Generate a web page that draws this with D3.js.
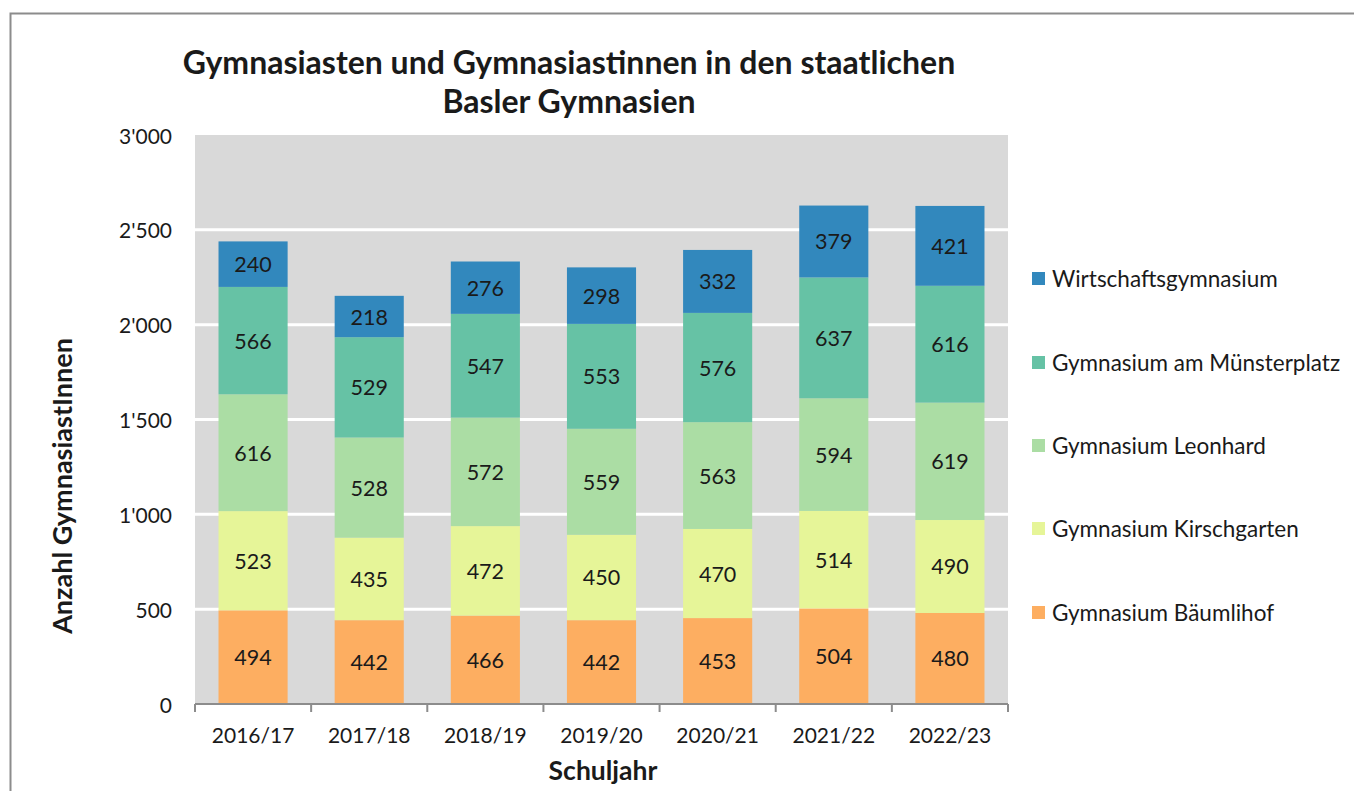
<!DOCTYPE html>
<html>
<head>
<meta charset="UTF-8">
<title>Gymnasiasten Basel</title>
<script src="https://d3js.org/d3.v7.min.js"></script>
<style>
  body { margin: 0; background: #fff; font-family: Lato, "Open Sans", sans-serif; }
  svg text { fill: #1a1a1a; }
</style>
</head>
<body>
<svg id="chart" width="1354" height="791"></svg>
<script>
// data
var years = ["2016/17", "2017/18", "2018/19", "2019/20", "2020/21", "2021/22", "2022/23"];
var baeumlihof   = [494, 442, 466, 442, 453, 504, 480];
var kirschgarten = [523, 435, 472, 450, 470, 514, 490];
var leonhard     = [616, 528, 572, 559, 563, 594, 619];
var muensterplatz = [566, 529, 547, 553, 576, 637, 616];
var wirtschaft   = [240, 218, 276, 298, 332, 379, 421];
var seriesNames = ["Gymnasium Bäumlihof", "Gymnasium Kirschgarten", "Gymnasium Leonhard",
                   "Gymnasium am Münsterplatz", "Wirtschaftsgymnasium"];
var yTicks = [0, 500, 1000, 1500, 2000, 2500, 3000];

var colors = ["#fdae61", "#e6f598", "#abdda4", "#66c2a5", "#3288bd"];
var allSeries = [baeumlihof, kirschgarten, leonhard, muensterplatz, wirtschaft];

var rows = years.map(function (y, i) {
  var r = { year: y };
  seriesNames.forEach(function (s, k) { r[s] = allSeries[k][i]; });
  return r;
});

var svg = d3.select("#chart");

// outer frame
svg.append("rect")
  .attr("x", 10.5).attr("y", 13.5)
  .attr("width", 1400).attr("height", 800)
  .attr("fill", "none").attr("stroke", "#8c8c8c").attr("stroke-width", 2);

var plot = { left: 195, top: 135, right: 1008, bottom: 704 };

var x = d3.scaleBand().domain(years).range([plot.left, plot.right]).paddingInner(0.405).paddingOuter(0.2025);
var xb = d3.scaleBand().domain(years).range([plot.left, plot.right]);
var y = d3.scaleLinear().domain([0, 3000]).range([plot.bottom, plot.top]);

// background
svg.append("rect")
  .attr("x", plot.left).attr("y", plot.top)
  .attr("width", plot.right - plot.left).attr("height", plot.bottom - plot.top)
  .attr("fill", "#d9d9d9");

// gridlines
svg.append("g").selectAll("line")
  .data(yTicks.filter(function (t) { return t > 0 && t < 3000; }))
  .join("line")
  .attr("x1", plot.left).attr("x2", plot.right)
  .attr("y1", function (d) { return y(d); }).attr("y2", function (d) { return y(d); })
  .attr("stroke", "#fff").attr("stroke-width", 3);

// stacks
var stack = d3.stack().keys(seriesNames)(rows);

var layers = svg.append("g").selectAll("g")
  .data(stack).join("g")
  .attr("fill", function (d, i) { return colors[i]; });

layers.selectAll("rect")
  .data(function (d) { return d; })
  .join("rect")
  .attr("x", function (d) { return x(d.data.year); })
  .attr("width", x.bandwidth())
  .attr("y", function (d) { return y(d[1]); })
  .attr("height", function (d) { return y(d[0]) - y(d[1]); });

layers.selectAll("text")
  .data(function (d) { return d; })
  .join("text")
  .attr("x", function (d) { return x(d.data.year) + x.bandwidth() / 2; })
  .attr("y", function (d) { return (y(d[0]) + y(d[1])) / 2; })
  .attr("text-anchor", "middle")
  .attr("dominant-baseline", "central")
  .style("font-size", "21.5px")
  .text(function (d) { return d[1] - d[0]; });

// x axis
var xAxis = svg.append("g")
  .attr("transform", "translate(0," + plot.bottom + ")");
xAxis.append("line")
  .attr("x1", plot.left).attr("x2", plot.right)
  .attr("stroke", "#8c8c8c").attr("stroke-width", 2);
xAxis.selectAll(".tk")
  .data(years.concat(["end"]))
  .join("line")
  .attr("class", "tk")
  .attr("x1", function (d, i) { return plot.left + i * xb.step(); })
  .attr("x2", function (d, i) { return plot.left + i * xb.step(); })
  .attr("y1", 0).attr("y2", 8)
  .attr("stroke", "#8c8c8c").attr("stroke-width", 2);
xAxis.selectAll("text")
  .data(years).join("text")
  .attr("x", function (d) { return xb(d) + xb.bandwidth() / 2; })
  .attr("y", 39)
  .attr("text-anchor", "middle")
  .style("font-size", "21px")
  .text(function (d) { return d; });

// y axis labels
svg.append("g").selectAll("text")
  .data(yTicks).join("text")
  .attr("x", 172)
  .attr("y", function (d) { return y(d); })
  .attr("text-anchor", "end")
  .attr("dominant-baseline", "central")
  .style("font-size", "21px")
  .text(function (d) { return d3.format(",")(d).replace(",", "'"); });

// titles
var title = svg.append("text")
  .attr("x", 569).attr("text-anchor", "middle")
  .style("font-size", "32px").style("font-weight", "bold");
title.append("tspan").attr("x", 569).attr("y", 74).text("Gymnasiasten und Gymnasiastinnen in den staatlichen");
title.append("tspan").attr("x", 569).attr("y", 113).text("Basler Gymnasien");

svg.append("text")
  .attr("transform", "translate(72,486) rotate(-90)")
  .attr("text-anchor", "middle")
  .style("font-size", "27px").style("font-weight", "bold")
  .text("Anzahl GymnasiastInnen");

svg.append("text")
  .attr("x", 603).attr("y", 780)
  .attr("text-anchor", "middle")
  .style("font-size", "26.5px").style("font-weight", "bold")
  .text("Schuljahr");

// legend (top to bottom reversed)
var legendY = [612, 528, 445, 362, 278];
var legend = svg.append("g").selectAll("g")
  .data(seriesNames).join("g")
  .attr("transform", function (d, i) { return "translate(1032," + legendY[i] + ")"; });
legend.append("rect")
  .attr("x", 0).attr("y", -6).attr("width", 13).attr("height", 13)
  .attr("fill", function (d, i) { return colors[i]; });
legend.append("text")
  .attr("x", 20).attr("y", 0)
  .attr("dominant-baseline", "central")
  .style("font-size", "22.5px")
  .text(function (d) { return d; });
</script>
</body>
</html>
